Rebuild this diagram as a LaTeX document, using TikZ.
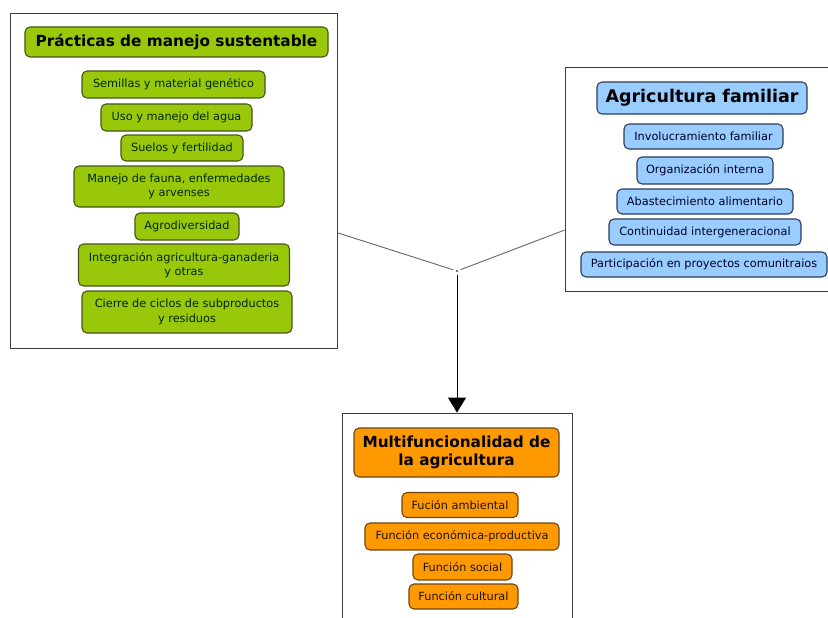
\documentclass[tikz,border=0pt]{standalone}
\usepackage{fontspec}
\setmainfont{DejaVu Sans}
\usetikzlibrary{arrows.meta, positioning}
\definecolor{verde}{RGB}{153,200,10}
\definecolor{azul}{RGB}{153,204,255}
\definecolor{naranja}{RGB}{255,153,0}
\definecolor{bverde}{RGB}{70,85,25}
\definecolor{bazul}{RGB}{45,60,90}
\definecolor{bnaranja}{RGB}{110,70,20}
\definecolor{borde}{RGB}{60,60,60}
\begin{document}
\begin{tikzpicture}[x=1pt, y=-1pt,
    marco/.style={draw=borde, fill=white, line width=0.8pt, inner sep=0pt},
    caja/.style={rounded corners=5pt, line width=1.1pt, inner sep=0pt,
                 align=center, font=\fontsize{11.3}{14.5}\selectfont},
    titulo/.style={font=\fontsize{15.3}{18}\selectfont\bfseries, text=black},
    cverde/.style={caja, fill=verde, draw=bverde, text=black!85!green},
    cazul/.style={caja, fill=azul, draw=bazul, text=black!85!blue},
    cnaranja/.style={caja, fill=naranja, draw=bnaranja, text=black!85!brown},
    enlace/.style={fill=black!55, inner sep=0pt, minimum size=1.5pt, outer sep=3pt},
    linea/.style={draw=black!60, line width=0.9pt}]
    \useasboundingbox (0,0) rectangle (828,618);
    % marcos
    \node[marco, minimum width=327, minimum height=335] (practicas) at (173.5,180.5) {};
    \node[marco, minimum width=270, minimum height=224] (familiar) at (700,179) {};
    \node[marco, minimum width=230, minimum height=240] (multi) at (457,533) {};
    % practicas de manejo sustentable
    \node[cverde, titulo, minimum width=303, minimum height=30] (tpracticas) at (176.5,42) {Prácticas de manejo sustentable};
    \node[cverde, minimum width=183, minimum height=27] (semillas) at (173.5,84.5) {Semillas y material genético};
    \node[cverde, minimum width=151, minimum height=27] (agua) at (176.5,117.5) {Uso y manejo del agua};
    \node[cverde, minimum width=122, minimum height=26] (suelos) at (182,148) {Suelos y fertilidad};
    \node[cverde, minimum width=210, minimum height=41] (fauna) at (179,186.5) {Manejo de fauna, enfermedades\\ y arvenses};
    \node[cverde, minimum width=104, minimum height=27] (agrodiv) at (187,226.5) {Agrodiversidad};
    \node[cverde, minimum width=211, minimum height=42] (integracion) at (184,265) {Integración agricultura-ganaderia\\ y otras};
    \node[cverde, minimum width=210, minimum height=42] (cierre) at (187,312) {Cierre de ciclos de subproductos\\ y residuos};
    % agricultura familiar
    \node[cazul, titulo, font=\fontsize{17.5}{20}\selectfont\bfseries, minimum width=210, minimum height=32] (tfamiliar) at (702,98) {Agricultura familiar};
    \node[cazul, minimum width=159, minimum height=25] (involucra) at (703.5,136.5) {Involucramiento familiar};
    \node[cazul, minimum width=136, minimum height=27] (organiza) at (705,170.5) {Organización interna};
    \node[cazul, minimum width=176, minimum height=25] (abasto) at (705,201.5) {Abastecimiento alimentario};
    \node[cazul, minimum width=192, minimum height=26] (continuidad) at (705,232) {Continuidad intergeneracional};
    \node[cazul, minimum width=246, minimum height=25] (participa) at (704,264.5) {Participación en proyectos comunitraios};
    % multifuncionalidad
    \node[cnaranja, titulo, minimum width=205, minimum height=49] (tmulti) at (456.5,452.5) {Multifuncionalidad de\\ la agricultura};
    \node[cnaranja, minimum width=116, minimum height=25] (ambiental) at (460,505) {Fución ambiental};
    \node[cnaranja, minimum width=194, minimum height=27] (economica) at (462,536.5) {Función económica-productiva};
    \node[cnaranja, minimum width=99, minimum height=26] (social) at (462.5,567) {Función social};
    \node[cnaranja, minimum width=109, minimum height=25] (cultural) at (463.5,596.5) {Función cultural};
    % enlaces
    \node[enlace] (union) at (457,271) {};
    \draw[linea] (practicas) -- (union);
    \draw[linea] (familiar) -- (union);
    \draw[-{Triangle[width=18pt, length=15pt]}, line width=0.8pt] (union) -- (multi.north);
\end{tikzpicture}
\end{document}
